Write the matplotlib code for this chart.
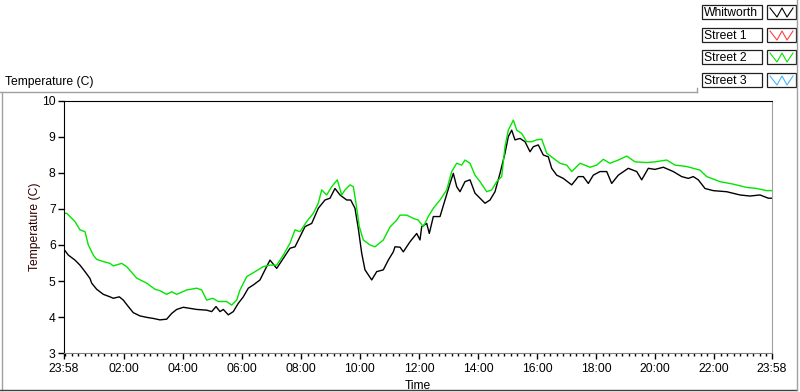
import numpy as np
import matplotlib
matplotlib.use("Agg")
import matplotlib.pyplot as plt
from matplotlib.patches import Rectangle

# hours elapsed since 23:58 and temperature (C)
whit_t = [0.0, 0.146, 0.373, 0.542, 0.712, 0.881, 0.939, 1.108, 1.332, 1.559, 1.671,
          1.875, 2.010, 2.180, 2.349, 2.576, 2.803, 3.027, 3.254, 3.481, 3.651, 3.820,
          4.044, 4.271, 4.498, 4.837, 5.007, 5.153, 5.288, 5.400, 5.569, 5.739, 5.908,
          6.078, 6.247, 6.417, 6.644, 6.814, 6.983, 7.210, 7.434, 7.661, 7.831, 8.000,
          8.169, 8.397, 8.620, 8.847, 9.017, 9.186, 9.356, 9.583, 9.719, 9.864, 9.976,
          10.092, 10.203, 10.431, 10.600, 10.824, 10.993, 11.163, 11.220, 11.390, 11.502,
          11.729, 11.956, 12.068, 12.125, 12.295, 12.383, 12.519, 12.746, 12.915, 13.085,
          13.197, 13.312, 13.424, 13.593, 13.763, 13.932, 14.102, 14.271, 14.441, 14.610,
          14.780, 14.949, 15.061, 15.176, 15.288, 15.458, 15.627, 15.797, 15.908, 16.078,
          16.247, 16.417, 16.532, 16.702, 16.925, 17.210, 17.434, 17.603, 17.773, 17.942,
          18.169, 18.397, 18.566, 18.790, 19.129, 19.414, 19.583, 19.807, 20.034, 20.315,
          20.654, 20.939, 21.163, 21.332, 21.502, 21.729, 22.010, 22.464, 22.915, 23.254,
          23.593, 23.875, 24.0]
whit_v = [5.88, 5.72, 5.58, 5.44, 5.26, 5.07, 4.94, 4.77, 4.63, 4.56, 4.52,
          4.56, 4.47, 4.29, 4.12, 4.03, 3.99, 3.96, 3.92, 3.94, 4.10, 4.21,
          4.27, 4.24, 4.21, 4.19, 4.15, 4.29, 4.15, 4.21, 4.06, 4.15, 4.38,
          4.56, 4.80, 4.89, 5.03, 5.31, 5.58, 5.35, 5.63, 5.91, 5.95, 6.23,
          6.51, 6.60, 7.02, 7.25, 7.30, 7.57, 7.39, 7.25, 7.25, 7.02, 6.46,
          5.77, 5.31, 5.03, 5.26, 5.31, 5.58, 5.81, 5.95, 5.94, 5.81,
          6.09, 6.32, 6.14, 6.51, 6.60, 6.32, 6.79, 6.79, 7.25, 7.71,
          7.99, 7.62, 7.48, 7.76, 7.81, 7.44, 7.30, 7.16, 7.25, 7.48,
          7.99, 8.55, 9.01, 9.19, 8.92, 8.96, 8.87, 8.59, 8.73, 8.78,
          8.50, 8.45, 8.13, 7.94, 7.85, 7.67, 7.90, 7.90, 7.71, 7.94,
          8.04, 8.04, 7.71, 7.94, 8.13, 8.04, 7.81, 8.13, 8.10, 8.16,
          8.04, 7.90, 7.85, 7.90, 7.81, 7.57, 7.51, 7.48, 7.39, 7.36,
          7.39, 7.30, 7.30]

st2_t = [0.0, 0.092, 0.373, 0.542, 0.712, 0.824, 0.993, 1.108, 1.332, 1.559, 1.671,
         1.956, 2.125, 2.464, 2.803, 3.085, 3.254, 3.481, 3.651, 3.820, 4.159, 4.498,
         4.668, 4.837, 5.041, 5.231, 5.515, 5.685, 5.854, 5.966, 6.193, 6.417, 6.756,
         6.983, 7.210, 7.434, 7.661, 7.831, 8.000, 8.227, 8.451, 8.620, 8.736, 8.905,
         9.075, 9.264, 9.414, 9.525, 9.695, 9.807, 9.898, 10.010, 10.146, 10.373, 10.542,
         10.824, 11.051, 11.278, 11.390, 11.617, 11.841, 12.010, 12.180, 12.349, 12.519,
         12.746, 12.973, 13.142, 13.312, 13.481, 13.593, 13.763, 13.932, 14.102, 14.329,
         14.498, 14.668, 14.837, 14.949, 15.061, 15.231, 15.346, 15.515, 15.685, 15.854,
         16.024, 16.193, 16.363, 16.586, 16.814, 17.041, 17.210, 17.492, 17.831, 18.058,
         18.281, 18.508, 18.790, 19.075, 19.356, 19.753, 20.034, 20.431, 20.712, 21.108,
         21.559, 21.786, 22.237, 22.688, 23.142, 23.481, 23.820, 24.0]
st2_v = [6.88, 6.88, 6.65, 6.42, 6.37, 6.00, 5.72, 5.60, 5.54, 5.49, 5.42,
         5.49, 5.40, 5.08, 4.94, 4.77, 4.73, 4.63, 4.70, 4.63, 4.75, 4.80,
         4.75, 4.47, 4.52, 4.43, 4.43, 4.33, 4.47, 4.75, 5.12, 5.23, 5.40,
         5.44, 5.44, 5.72, 6.05, 6.42, 6.37, 6.65, 6.88, 7.16, 7.53, 7.39,
         7.62, 7.81, 7.39, 7.53, 7.67, 7.62, 7.16, 6.51, 6.14, 6.00, 5.95,
         6.14, 6.50, 6.69, 6.83, 6.83, 6.74, 6.69, 6.51, 6.79, 7.02,
         7.25, 7.53, 8.04, 8.27, 8.22, 8.36, 8.27, 7.94, 7.76, 7.48,
         7.53, 7.76, 7.90, 8.73, 9.19, 9.47, 9.19, 9.10, 8.87, 8.87,
         8.92, 8.94, 8.55, 8.41, 8.27, 8.22, 8.04, 8.27, 8.16, 8.22,
         8.38, 8.27, 8.36, 8.47, 8.31, 8.29, 8.31, 8.36, 8.22, 8.18,
         8.08, 7.90, 7.76, 7.69, 7.60, 7.57, 7.51, 7.51]

series_names = ["Whitworth", "Street 1", "Street 2", "Street 3"]
series_colors = ["#000000", "#ff4040", "#00e600", "#40b8ff"]

# x ticks: start 23:58, then every two hours, end 23:58
tick_labels = ["23:58", "02:00", "04:00", "06:00", "08:00", "10:00", "12:00",
               "14:00", "16:00", "18:00", "20:00", "22:00", "23:58"]
first = 2 + 2 / 60.0
tick_pos = [0.0] + [first + 2 * k for k in range(11)] + [24.0]
minor_pos = [first + k * 2 / 9.0 for k in range(-9, 99)]
minor_pos = [m for m in minor_pos if 0 <= m <= 24]

plt.rcParams["font.family"] = ["Liberation Sans", "DejaVu Sans"]
fs = 8.7

fig = plt.figure(figsize=(8, 3.92), dpi=100)
W, H = 800, 392

# pixel-space overlay for panel frame and legend
deco = fig.add_axes([0, 0, 1, 1], zorder=0)
deco.set_xlim(0, W)
deco.set_ylim(H, 0)
deco.axis("off")
deco.plot([0, 697], [92, 92], color="#a0a0a0", lw=1)
deco.plot([697, 697], [88, 92], color="#a0a0a0", lw=1)
deco.plot([2, 2], [92, 390], color="#a0a0a0", lw=1)
deco.plot([0, 797], [390, 390], color="#404040", lw=1)
deco.plot([797, 797], [0, 390], color="#a0a0a0", lw=1)
deco.text(5, 82, "Temperature (C)", fontsize=fs, va="center", ha="left")

row_top = [5, 28, 50, 73]
for name, col, y0 in zip(series_names, series_colors, row_top):
    deco.add_patch(Rectangle((702, y0), 60, 14, fill=False, ec="#202020", lw=0.9))
    deco.text(704, y0 + 7.5, name, fontsize=fs, va="center", ha="left")
    deco.add_patch(Rectangle((767, y0), 29, 14, fill=False, ec="#202020", lw=0.9))
    deco.plot([770, 777, 782, 787, 793], [y0 + 3, y0 + 12, y0 + 3, y0 + 12, y0 + 3],
              color=col, lw=0.8)

ax = fig.add_axes([64 / W, 1 - 353 / H, 708 / W, 252 / H], zorder=1)
ax.patch.set_alpha(0)
ax.plot(whit_t, whit_v, color=series_colors[0], lw=1.0)
ax.plot(st2_t, st2_v, color=series_colors[2], lw=1.0)

ax.set_xlim(0, 24)
ax.set_ylim(3, 10)
ax.set_yticks(range(3, 11))
ax.set_xticks(tick_pos)
ax.set_xticklabels(tick_labels)
ax.set_xticks(minor_pos, minor=True)
ax.tick_params(axis="both", labelsize=fs, length=4, width=1, pad=2, color="black")
ax.tick_params(axis="x", which="major", pad=3.5)
ax.tick_params(axis="x", which="minor", length=2.5, width=1)
ax.spines["left"].set_color("black")
ax.spines["top"].set_color("black")
ax.spines["right"].set_color("#a0a0a0")
ax.spines["bottom"].set_color("#808080")
ax.set_xlabel("Time", fontsize=fs, labelpad=3)
ax.set_ylabel("Temperature (C)", fontsize=fs, color="#300000", labelpad=1)

fig.savefig("out.png", dpi=100)
